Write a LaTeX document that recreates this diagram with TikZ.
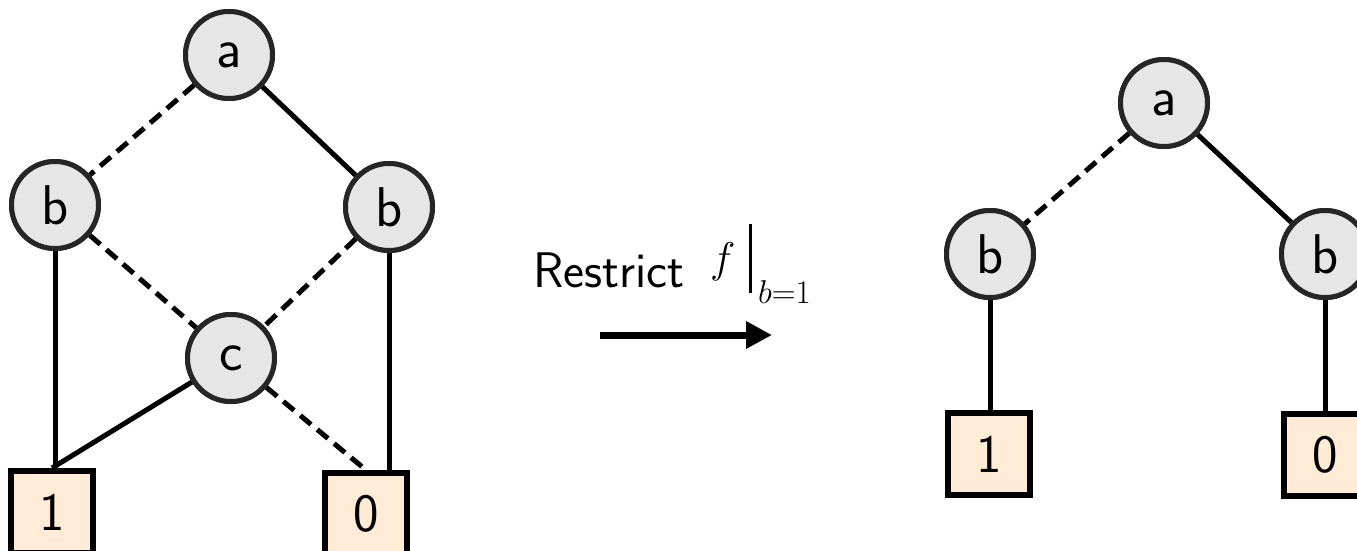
\RequirePackage{fix-cm}
\documentclass[tikz,border=0pt]{standalone}
\usetikzlibrary{arrows.meta}
\definecolor{nodefill}{RGB}{230,230,230}
\definecolor{nodeline}{RGB}{38,38,38}
\definecolor{boxfill}{RGB}{255,235,214}
\tikzset{
  vnode/.style={circle, draw=nodeline, fill=nodefill, line width=5pt, minimum size=87pt, inner sep=0pt,
    font=\sffamily\fontsize{56}{60}\selectfont},
  tnode/.style={rectangle, draw=black, fill=boxfill, line width=6pt, minimum size=82pt, inner sep=0pt,
    font=\sffamily\fontsize{54}{60}\selectfont},
  hi/.style={line width=5pt, draw=black},
  lo/.style={line width=5pt, draw=black, dash pattern=on 14pt off 8pt},
}
\begin{document}
\begin{tikzpicture}[x=1pt,y=-1pt]
\useasboundingbox (0,0) rectangle (1357,550);
\clip (0,0) rectangle (1357,550);
% left diagram
\node[vnode] (la) at (229,55) {a};
\node[vnode] (lbl) at (55,205) {b};
\node[vnode] (lbr) at (389,207) {b};
\node[vnode] (lc) at (231,358) {c};
\node[tnode] (lone) at (52,512) {1};
\node[tnode] (lzero) at (366,514) {0};
\draw[lo] (la) -- (lbl);
\draw[hi] (la) -- (lbr);
\draw[lo] (lbl) -- (lc);
\draw[lo] (lbr) -- (lc);
\draw[hi] (lbl) -- (lbl |- lone.north);
\draw[hi] (lbr) -- (lbr |- lzero.north);
\draw[hi] (lc) -- (lone.north);
\draw[lo] (lc) -- (lzero.north);
\node[vnode] at (la) {a};
\node[vnode] at (lbl) {b};
\node[vnode] at (lbr) {b};
\node[vnode] at (lc) {c};
\node[tnode] at (lone) {1};
\node[tnode] at (lzero) {0};
% middle label and arrow
\node[anchor=base west, inner sep=0pt, font=\sffamily\fontsize{50}{56}\selectfont] (lbl1) at (533,287) {Restrict};
\node[anchor=base west, inner sep=0pt, font=\fontsize{43}{50}\selectfont] (lblf) at (710,272) {$f$};
\coordinate (bart) at (750,224);
\coordinate (barb) at (750,293);
\draw[line width=3pt] (bart) -- (barb);
\node[anchor=base west, inner sep=0pt, font=\fontsize{33}{36}\selectfont] (lblsub) at (758,303) {$b{=}1$};
\coordinate (arrs) at (600,335);
\coordinate (arre) at (772,335);
\draw[line width=7pt, -{Triangle[length=26pt,width=26pt]}] (arrs) -- (arre);
% right diagram
\node[vnode] (ra) at (1164,103) {a};
\node[vnode] (rbl) at (990,254) {b};
\node[vnode] (rbr) at (1325,254) {b};
\node[tnode] (rone) at (989,454) {1};
\node[tnode] (rzero) at (1325,455) {0};
\draw[lo] (ra) -- (rbl);
\draw[hi] (ra) -- (rbr);
\draw[hi] (rbl) -- (rbl |- rone.north);
\draw[hi] (rbr) -- (rbr |- rzero.north);
\node[vnode] at (ra) {a};
\node[vnode] at (rbl) {b};
\node[vnode] at (rbr) {b};
\node[tnode] at (rone) {1};
\node[tnode] at (rzero) {0};
\end{tikzpicture}
\end{document}
